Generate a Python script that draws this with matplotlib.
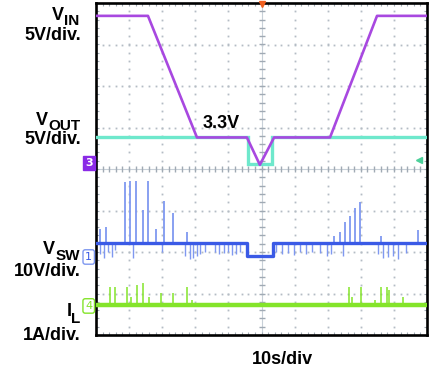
#!/usr/bin/env python3
'''Scope capture: VIN ramp down/up with VOUT, VSW and IL traces'''
import matplotlib
matplotlib.use('Agg')
import matplotlib.pyplot as plt
import numpy as np

W, H = 430, 375

# trace data in divisions (x: 0..10, y: -4..4, centre = 0)
vin_x = [0, 1.57, 3.05, 4.56, 4.95, 5.38, 7.07, 8.49, 10]
vin_y = [3.69, 3.69, 0.76, 0.76, 0.10, 0.76, 0.76, 3.69, 3.69]

vout_x = [0, 4.59, 4.59, 5.32, 5.32, 10]
vout_y = [0.78, 0.78, 0.11, 0.11, 0.78, 0.78]

vsw_x = [0, 4.56, 4.56, 5.35, 5.35, 10]
vsw_y = [-1.78, -1.78, -2.10, -2.10, -1.78, -1.78]
vsw_up_x = [0.13, 0.30, 0.876, 1.027, 1.208, 1.420, 1.571, 1.813, 2.054,
            2.326, 2.749, 7.20, 7.372, 7.523, 7.674, 7.825, 7.976, 8.60,
            9.728]
vsw_up_y = [-1.45, -1.40, -0.313, -0.289, -0.289, -0.988, -0.289, -1.446,
            -0.771, -1.060, -1.518, -1.62, -1.518, -1.277, -1.133, -0.940,
            -0.795, -1.62, -1.470]
vsw_dn_x = [0.12, 0.24, 0.36, 0.48, 0.57, 1.12, 2.00, 2.70, 2.85, 2.94,
            3.06, 3.14, 3.29, 3.60, 3.73, 3.87, 3.99, 4.11, 4.23, 4.35,
            5.44, 5.62, 5.80, 5.98, 6.16, 6.34, 6.52, 6.77, 6.98, 7.10,
            7.46, 8.52, 8.67, 8.82, 8.97, 9.12, 9.36]
vsw_dn_y = [-2.05, -2.14, -2.00, -2.12, -1.95, -2.14, -2.00, -2.10, -2.17,
            -2.14, -2.10, -2.05, -2.00, -2.00, -2.05, -2.02, -2.00, -2.08,
            -2.05, -2.00, -2.00, -2.05, -2.02, -2.08, -2.00, -2.05, -2.00,
            -2.02, -2.10, -2.05, -2.10, -2.05, -2.14, -2.12, -2.10, -2.17,
            -2.02]

il_base = -3.28
il_up_x = [0.42, 0.57, 0.94, 1.06, 1.24, 1.42, 1.60, 1.96, 2.33, 2.75,
           2.90, 7.64, 7.73, 8.00, 8.43, 8.61, 8.79, 8.85, 9.28]
il_up_y = [-2.84, -2.84, -2.84, -3.08, -2.80, -2.75, -3.08, -2.99, -2.99,
           -2.84, -3.16, -2.84, -3.08, -2.84, -3.16, -2.84, -2.84, -2.92,
           -3.08]

PURPLE = '#a848e0'
CYAN = '#6ee8cc'
BLUE = '#3a5ae6'
LBLUE = '#7f98f0'
GREEN = '#84e42a'


def px(x, y):
    return x / W, 1 - y / H


fig = plt.figure(figsize=(W / 100, H / 100), dpi=100)
fig.patch.set_facecolor('white')
ax = fig.add_axes([96 / W, (H - 335) / H, (427 - 96) / W, 332 / H])
ax.set_xlim(0, 10)
ax.set_ylim(-4, 4)

# dotted graticule
for gx in range(1, 10):
    if gx == 5:
        continue
    ys = np.arange(-4, 4.01, 0.2)
    ax.plot(np.full_like(ys, gx), ys, ls='none', marker='s', ms=1.3,
            mec='none', mfc='#b4bcc4', zorder=1)
for gy in range(-3, 4):
    if gy == 0:
        continue
    xs = np.arange(0, 10.01, 0.2)
    ax.plot(xs, np.full_like(xs, gy), ls='none', marker='s', ms=1.3,
            mec='none', mfc='#b4bcc4', zorder=1)

# centre crosshair with ticks
ax.axhline(0, color='#c8d0d8', lw=0.8, zorder=1)
ax.axvline(5, color='#c8d0d8', lw=0.8, zorder=1)
t = np.arange(0, 10.01, 0.2)
ax.plot(t, np.zeros_like(t), ls='none', marker='|', ms=4, mew=1,
        color='#a0aab4', zorder=1)
t = np.arange(-4, 4.01, 0.2)
ax.plot(np.full_like(t, 5), t, ls='none', marker='_', ms=4, mew=1,
        color='#a0aab4', zorder=1)

# traces
ax.plot(vout_x, vout_y, color=CYAN, lw=2.4, zorder=3, solid_joinstyle='miter')
ax.plot(vin_x, vin_y, color=PURPLE, lw=1.9, zorder=4)

ax.vlines(vsw_up_x, vsw_y[0], vsw_up_y, color=LBLUE, lw=1.3, zorder=3)
ax.vlines(vsw_dn_x, vsw_y[0], vsw_dn_y, color=LBLUE, lw=1.0, zorder=3)
ax.plot(vsw_x, vsw_y, color=BLUE, lw=2.4, zorder=4)

ax.vlines(il_up_x, il_base, il_up_y, color=GREEN, lw=1.1, zorder=3)
ax.axhline(il_base, color=GREEN, lw=3.2, zorder=4)

# trigger markers
ax.plot([5], [3.97], marker='v', ms=4, color='#f06020', clip_on=False,
        zorder=6)
ax.plot([9.76], [0.22], marker='<', ms=5, color='#4cd09a', zorder=6)

# frame with small inward ticks
for s in ax.spines.values():
    s.set_linewidth(1.9)
    s.set_color('black')
ax.set_xticks([])
ax.set_yticks([])
ax.set_xticks(np.arange(0, 10.01, 0.2), minor=True)
ax.set_yticks(np.arange(-4, 4.01, 0.2), minor=True)
ax.tick_params(which='minor', direction='in', length=2.5, width=0.8,
               color='#a0aab4', top=True, right=True,
               labelbottom=False, labelleft=False)

# channel markers at the left edge
ax.text(-0.22, 0.14, '3', ha='center', va='center', color='white',
        fontsize=8, fontweight='bold', clip_on=False,
        bbox=dict(boxstyle='square,pad=0.2', fc='#8a2ae6', ec='#8a2ae6'))
ax.text(-0.22, -2.12, '1', ha='center', va='center', color=BLUE,
        fontsize=8, clip_on=False,
        bbox=dict(boxstyle='round,pad=0.2', fc='white', ec=LBLUE, lw=1))
ax.text(-0.22, -3.30, '4', ha='center', va='center', color=GREEN,
        fontsize=8, clip_on=False,
        bbox=dict(boxstyle='round,pad=0.2', fc='white', ec=GREEN, lw=1))

plt.rcParams['font.family'] = ['Liberation Sans', 'DejaVu Sans']
big = dict(fontsize=13, fontweight='bold', color='black')
sub = dict(fontsize=11, fontweight='bold', color='black')

fig.text(*px(52, 15), 'V', ha='left', va='center', **big)
fig.text(*px(64, 21), 'IN', ha='left', va='center', **sub)
fig.text(*px(81, 35), '5V/div.', ha='right', va='center', **big)

fig.text(*px(36, 120), 'V', ha='left', va='center', **big)
fig.text(*px(48, 126), 'OUT', ha='left', va='center', **sub)
fig.text(*px(81, 140), '5V/div.', ha='right', va='center', **big)

fig.text(*px(203, 124), '3.3V', ha='left', va='center', **big)

fig.text(*px(43, 250), 'V', ha='left', va='center', **big)
fig.text(*px(56, 256), 'SW', ha='left', va='center', **sub)
fig.text(*px(81, 271), '10V/div.', ha='right', va='center', **big)

fig.text(*px(67, 311), 'I', ha='left', va='center', **big)
fig.text(*px(71, 319), 'L', ha='left', va='center', **sub)
fig.text(*px(81, 335), '1A/div.', ha='right', va='center', **big)

fig.text(*px(282, 360), '10s/div', ha='center', va='center', **big)

fig.savefig('out.png', dpi=100, facecolor='white')
